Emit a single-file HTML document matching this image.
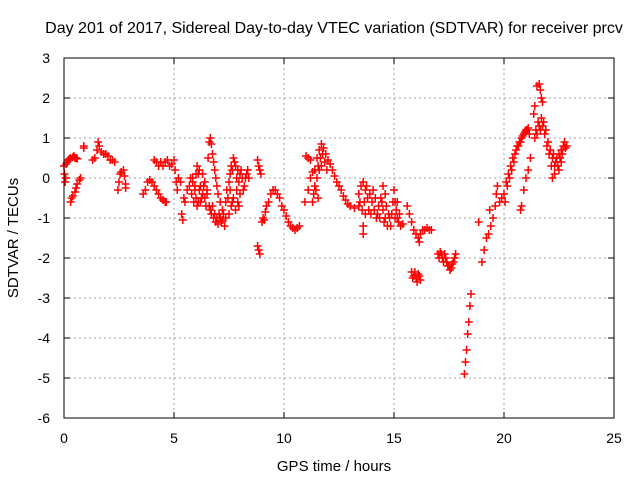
<!DOCTYPE html>
<html><head><meta charset="utf-8"><style>
body{margin:0;background:#fff}
svg{display:block;font-family:"Liberation Sans",sans-serif}
</style></head><body>
<svg id="chart" width="640" height="480">
<text x="334" y="33" font-size="16" text-anchor="middle">Day 201 of 2017, Sidereal Day-to-day VTEC variation (SDTVAR) for receiver prcv</text>
<text x="334" y="471" font-size="15" text-anchor="middle">GPS time / hours</text>
<text transform="translate(18,238) rotate(-90)" font-size="15" text-anchor="middle">SDTVAR / TECUs</text>
<g id="grid"></g><g id="ticks"></g><g id="marks"></g>
<rect x="64" y="58" width="550" height="360" fill="none" stroke="#000" stroke-width="1"/>
</svg>
<script>
const xTicks=[0,5,10,15,20,25];
const yTicks=[3,2,1,0,-1,-2,-3,-4,-5,-6];
const hours=[0,0.02,0.05,0.08,0.1,0.2,0.3,0.4,0.5,0.6,0.3,0.35,0.4,0.5,0.55,0.6,0.7,0.75,0.9,0.9,
1.3,1.4,1.5,1.55,1.6,1.7,1.8,1.9,2.0,2.1,2.2,2.3,2.45,2.5,2.55,2.6,2.7,2.75,2.8,2.8,
3.6,3.7,3.8,3.9,4.0,4.1,4.2,4.3,4.4,4.5,4.6,4.65,4.1,4.2,4.3,4.4,4.5,4.6,4.7,4.8,4.9,
5.0,5.05,5.1,5.15,5.2,5.3,5.35,5.4,5.45,5.5,5.7,5.8,5.9,6.0,6.05,6.1,6.15,6.2,6.3,6.4,6.5,5.85,5.95,6.25,6.35,
6.55,6.6,6.65,6.7,6.75,6.8,6.85,6.9,6.95,7.0,7.1,7.2,6.6,6.7,6.8,6.9,7.0,7.1,7.2,7.3,
7.4,7.5,7.55,7.6,7.7,7.8,7.9,8.0,8.1,8.2,8.3,8.4,7.5,7.6,7.7,7.8,7.9,8.0,
8.8,8.85,8.9,8.95,8.8,8.85,8.9,9.0,9.05,9.1,9.15,9.2,
9.3,9.4,9.5,9.6,9.7,9.8,9.9,10.0,10.1,10.2,10.3,10.4,10.5,10.6,10.7,
11.0,11.1,11.2,11.1,11.2,11.3,11.4,
11.5,11.6,11.7,11.8,11.9,12.0,12.1,12.2,12.3,12.4,12.5,12.6,12.7,12.8,12.9,13.0,13.2,13.4,
11.3,11.35,11.4,11.5,11.6,11.7,10.95,
13.4,13.5,13.6,13.7,13.8,13.9,14.0,14.1,14.2,13.7,13.6,13.6,
14.3,14.4,14.5,14.6,14.7,14.8,14.9,14.5,14.6,
15.0,15.05,15.1,15.15,15.2,15.3,15.4,
15.6,15.7,15.8,15.9,16.0,16.1,16.15,16.2,
16.3,16.4,16.5,16.6,16.7,
15.8,15.9,16.0,16.1,16.2,
17.0,17.1,17.2,17.3,17.4,17.5,17.6,17.7,17.75,17.8,
18.2,18.25,18.3,18.35,18.4,18.45,18.5,
18.85,19.0,19.1,19.2,19.3,19.4,19.5,19.35,
19.6,19.65,19.7,19.8,19.9,20.0,20.1,20.2,20.3,20.4,20.5,20.6,20.7,20.8,20.9,21.0,21.1,
20.75,20.8,20.9,21.0,21.1,21.2,
21.5,21.6,21.65,21.7,21.75,21.35,21.4,
21.4,21.5,21.6,21.7,21.8,21.9,22.0,22.1,22.2,22.3,22.2,22.3,
22.4,22.5,22.6,22.7,22.8,22.5,22.6];
const values=[0.3,0.1,-0.1,0.0,0.35,0.45,0.5,0.52,0.5,0.48,-0.6,-0.5,-0.45,-0.35,-0.25,-0.15,-0.05,0.0,0.8,0.75,
0.45,0.5,0.7,0.9,0.8,0.65,0.6,0.6,0.55,0.45,0.45,0.4,-0.3,-0.1,0.1,0.15,0.2,0.05,-0.15,-0.25,
-0.4,-0.3,-0.1,-0.05,-0.1,-0.2,-0.3,-0.4,-0.5,-0.55,-0.6,-0.6,0.45,0.4,0.3,0.4,0.3,0.4,0.45,0.3,0.35,
0.45,0.2,-0.1,-0.3,0.0,-0.1,-0.9,-1.05,-0.5,-0.6,-0.2,-0.4,-0.6,-0.5,0.3,0.1,-0.3,-0.6,-0.4,-0.1,-0.4,0.0,-0.2,-0.5,-0.2,
0.5,0.9,1.0,0.85,0.6,0.4,0.2,0.0,-0.2,-0.4,-0.6,-0.8,-0.7,-0.9,-1.0,-1.1,-1.15,-1.0,-1.05,-1.2,
-0.3,-0.1,0.1,0.3,0.5,0.3,0.2,0.1,0.0,-0.2,0.1,0.0,-0.9,-0.7,-0.5,-0.8,-0.6,-0.4,
0.45,0.3,0.2,0.1,-1.7,-1.8,-1.9,-1.1,-1.0,-1.05,-0.85,-0.7,
-0.6,-0.4,-0.3,-0.3,-0.4,-0.5,-0.7,-0.8,-0.95,-1.1,-1.2,-1.25,-1.3,-1.25,-1.2,
0.55,0.5,0.45,-0.3,0.0,0.15,0.2,
0.5,0.7,0.85,0.75,0.6,0.45,0.35,0.2,0.05,-0.1,-0.2,-0.3,-0.45,-0.55,-0.65,-0.7,-0.75,-0.7,
-0.6,-0.4,-0.2,0.0,0.2,0.3,-0.6,
-0.4,-0.2,-0.1,-0.3,-0.5,-0.4,-0.6,-0.8,-1.0,-0.9,-1.2,-1.4,
-0.7,-0.5,-0.8,-1.0,-1.2,-1.0,-0.9,-0.2,-0.4,
-0.3,-0.6,-0.8,-1.0,-1.1,-1.2,-1.15,
-0.7,-0.9,-1.1,-1.3,-1.4,-1.5,-1.6,-1.4,
-1.3,-1.3,-1.25,-1.3,-1.3,
-2.35,-2.45,-2.5,-2.4,-2.55,
-1.9,-1.85,-2.0,-1.9,-2.1,-2.2,-2.25,-2.1,-2.0,-1.9,
-4.9,-4.6,-4.3,-3.9,-3.6,-3.2,-2.9,
-1.1,-2.1,-1.8,-1.5,-1.4,-1.2,-1.0,-0.8,
-0.7,-0.4,-0.2,-0.6,-0.5,-0.4,-0.1,0.1,0.3,0.5,0.6,0.8,0.9,1.0,1.1,1.2,1.25,
-0.8,-0.7,-0.3,0.0,0.2,0.5,
2.3,2.35,2.2,2.0,1.9,1.6,1.8,
1.0,1.1,1.3,1.5,1.4,1.2,0.9,0.7,0.5,0.3,0.0,0.1,
0.5,0.6,0.7,0.8,0.75,0.2,0.4];
const extraHours=[0.15,0.25,0.45,0.55,
5.6,5.75,5.85,5.95,6.0,6.1,6.2,6.3,6.4,6.45,6.5,6.05,6.15,
6.65,6.75,6.85,6.95,7.05,7.15,7.25,7.35,
7.45,7.55,7.65,7.75,7.85,7.95,8.05,8.15,8.25,8.35,7.65,7.85,7.95,7.35,
11.55,11.65,11.75,11.85,11.95,11.45,11.55,
13.45,13.55,13.65,13.75,13.85,13.95,14.05,14.15,14.25,14.35,14.45,14.55,14.65,14.75,14.85,14.95,15.05,15.15,15.25,
15.85,15.95,16.05,16.15,
20.05,20.15,20.25,20.35,20.45,20.55,20.65,20.75,20.85,20.95,21.05,21.15,
21.45,21.55,21.65,21.75,21.85,21.95,22.05,22.15,22.25,22.35,22.45,22.55,22.65,22.75,22.85,
17.05,17.15,17.25,17.35,17.45,17.55,17.65];
const extraValues=[0.4,0.48,0.55,0.5,
-0.3,0.0,-0.1,-0.3,0.1,-0.6,-0.2,0.1,-0.5,-0.7,-0.3,-0.7,0.2,
-0.8,-0.7,-0.9,-1.0,-0.9,-1.1,-0.9,-1.0,
-0.5,-0.3,0.2,0.4,0.0,-0.1,0.2,-0.3,0.0,0.2,-0.6,-0.3,-0.7,-0.6,
0.3,0.5,0.6,0.4,0.2,-0.3,-0.5,
-0.6,-0.8,-0.6,-0.2,-0.8,-0.9,-0.3,-0.5,-0.9,-1.0,-0.6,-1.1,-0.7,-0.9,-1.2,-0.6,-1.0,-0.6,-0.9,
-2.5,-2.35,-2.6,-2.45,
-0.6,-0.2,0.0,0.2,0.4,0.7,0.8,0.9,1.05,1.15,1.2,1.1,
1.2,1.4,1.2,1.3,1.1,0.8,0.6,0.3,0.6,0.4,0.3,0.5,0.6,0.9,0.8,
-2.0,-1.9,-2.1,-2.0,-2.2,-2.3,-2.15];
const allHours=hours.concat(extraHours), allValues=values.concat(extraValues);
const X0=64,X1=614,Y0=418,Y1=58;
const xs=h=>X0+(h-0)/(25-0)*(X1-X0);
const ys=v=>Y0-(v-(-6))/(3-(-6))*(Y0-Y1);
const NS='http://www.w3.org/2000/svg';
const grid=document.getElementById('grid'),ticks=document.getElementById('ticks'),marks=document.getElementById('marks');
function mk(tag,attrs,parent){const e=document.createElementNS(NS,tag);for(const k in attrs)e.setAttribute(k,attrs[k]);parent.appendChild(e);return e;}
xTicks.forEach(t=>{const x=xs(t);
 if(t>0&&t<25){const g=mk('line',{x1:x,x2:x,y1:Y1,y2:Y0,stroke:'#a0a0a0','stroke-dasharray':'2,3'},grid);
 
 }
 mk('line',{x1:x,x2:x,y1:Y0,y2:Y0-6,stroke:'#000'},ticks);
 mk('line',{x1:x,x2:x,y1:Y1,y2:Y1+6,stroke:'#000'},ticks);
 const l=mk('text',{x:x,y:443,'font-size':14,'text-anchor':'middle'},ticks);l.textContent=t;
 
 });
yTicks.forEach(t=>{const y=ys(t);
 if(t<3&&t>-6){const g=mk('line',{x1:X0,x2:X1,y1:y,y2:y,stroke:'#a0a0a0','stroke-dasharray':'2,3'},grid);
 
 }
 mk('line',{x1:X0,x2:X0+6,y1:y,y2:y,stroke:'#000'},ticks);
 mk('line',{x1:X1,x2:X1-6,y1:y,y2:y,stroke:'#000'},ticks);
 const l=mk('text',{x:50,y:y+5,'font-size':14,'text-anchor':'end'},ticks);l.textContent=t;
 
 });
allHours.forEach((h,i)=>{const x=xs(h),y=ys(allValues[i]);
 const p=mk('path',{d:`M${x-4},${y}H${x+4}M${x},${y-4}V${y+4}`,stroke:'#f00','stroke-width':1.5},marks);
 
 });
</script>
</body></html>
